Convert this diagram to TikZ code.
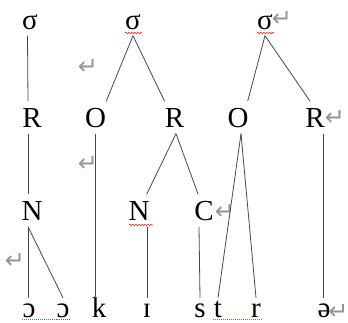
\documentclass[tikz,border=0pt]{standalone}
\usepackage{fontspec}
\setmainfont{Liberation Serif}
\newfontfamily\symfont{DejaVu Sans}
\usetikzlibrary{calc,decorations.pathmorphing}
\definecolor{ink}{HTML}{1a1a1a}
\definecolor{mark}{HTML}{959595}
\definecolor{spellred}{HTML}{e0322c}
\definecolor{spellblue}{HTML}{3f78e0}

\begin{document}
\begin{tikzpicture}[x=1pt,y=-1pt,
  seg/.style={font=\fontsize{29}{32}\selectfont,anchor=base,inner xsep=0pt,inner ysep=6.5pt,text height=19pt,text depth=0pt},
  phon/.style={seg,inner ysep=0pt},
  ret/.style={font=\symfont\fontsize{24}{24}\selectfont,color=mark,inner ysep=0pt,inner xsep=-2.5pt},
  link/.style={draw=ink!80,line width=0.8pt},
  wavy/.style={draw=spellred,line width=0.6pt,decorate,decoration={snake,amplitude=0.8pt,segment length=3pt}},
  dots/.style={draw=spellblue,line width=1pt,dash pattern=on 1pt off 1pt}]
  \useasboundingbox (0,0) rectangle (348,322);
  \node[seg] (s1) at (30,29) {σ};
  \node[seg] (s2) at (133,29) {σ};
  \node[seg] (s3) at (265,29) {σ};
  \node[seg] (r1) at (32,127) {R};
  \node[seg] (o1) at (95.5,127) {O};
  \node[seg] (r2) at (174.5,127) {R};
  \node[seg] (o2) at (238,127) {O};
  \node[seg] (r3) at (315,127) {R};
  \node[seg] (n1) at (32,220) {N};
  \node[seg] (n2) at (139,220) {N};
  \node[seg] (c) at (204,220) {C};
  \node[phon] (oa) at (29,317) {ɔ};
  \node[phon] (ob) at (63,317) {ɔ};
  \node[phon] (k) at (99,317) {k};
  \node[phon] (ih) at (147,317) {ɪ};
  \node[phon] (sb) at (200,317) {s};
  \node[phon] (t) at (218,317) {t};
  \node[phon] (rb) at (256,317) {r};
  \node[phon] (e) at (324,317) {ə};
  \node[ret] (m1) at (282,19) {↵};
  \node[ret] (m2) at (88,67) {↵};
  \node[ret] (m3) at (88,164) {↵};
  \node[ret] (m4) at (335,118) {↵};
  \node[ret] (m5) at (225,212) {↵};
  \node[ret] (m6) at (15,261) {↵};
  \node[ret] (m7) at (338.5,312) {↵};

  \draw[link] ([xshift=-2.5pt]s1.south) -- ([xshift=-4pt]r1.north);
  \draw[link] ([xshift=-4pt]r1.south) -- ([xshift=-4pt]n1.north);
  \draw[link] ([xshift=-4pt]n1.south) -- ([xshift=-1pt]oa.north);
  \draw[link] ([xshift=-4pt]n1.south) -- (ob.north);
  \draw[link] (s2.south) -- (o1.north east);
  \draw[link] (s2.south) -- (r2.north west);
  \draw[link] (o1.south) -- (o1.south |- k.north);
  \draw[link] ([xshift=1.5pt]r2.south) -- ([xshift=-3pt]n2.north east);
  \draw[link] ([xshift=1.5pt]r2.south) -- ([xshift=4pt]c.north west);
  \draw[link] (ih.north |- n2.south) -- (ih.north);
  \draw[link] ([xshift=-5pt]c.south) -- (sb.north);
  \draw[link] (s3.south) -- ([xshift=-1pt]o2.north east);
  \draw[link] (s3.south) -- ([xshift=5pt]r3.north west);
  \draw[link] ([xshift=3pt]o2.south) -- (t.north);
  \draw[link] ([xshift=3pt]o2.south) -- (rb.north);
  \draw[link] ([xshift=-1pt]e.north |- r3.south) -- ([xshift=-1pt]e.north);

  \draw[wavy] (125,33) -- (142,33);
  \draw[wavy] (257,33) -- (274,33);
  \draw[wavy] (129,225) -- (153,225);
  \draw[dots] (22,319) -- (57,319);
  \draw[dots,draw=spellred] (57,319) -- (70,319);
  \draw[dots] (213,319) -- (262,319);
\end{tikzpicture}
\end{document}
